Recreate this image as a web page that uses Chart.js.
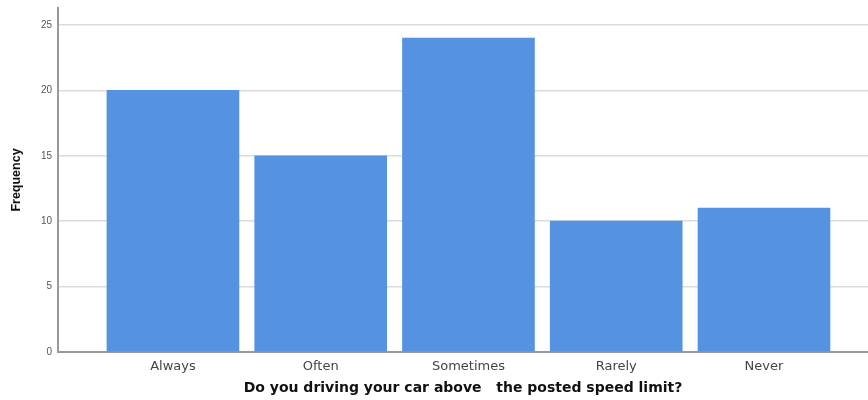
<!DOCTYPE html>
<html>
<head>
<meta charset="utf-8">
<script src="https://cdn.jsdelivr.net/npm/chart.js@4"></script>
<style>
html,body{margin:0;padding:0;background:#fff;}
#wrap{width:868px;height:400px;}
</style>
</head>
<body>
<div id="wrap"><canvas id="c" width="868" height="400"></canvas></div>
<script>
const categories = ["Always", "Often", "Sometimes", "Rarely", "Never"];
const frequency = [20, 15, 24, 10, 11];
const yTicks = [0, 5, 10, 15, 20, 25];
const xTitle = "Do you driving your car above   the posted speed limit?";
const yTitle = "Frequency";

const points = categories.map((c, i) => ({x: i, y: frequency[i]}));

new Chart(document.getElementById('c'), {
  type: 'bar',
  data: {
    datasets: [{
      data: points,
      backgroundColor: '#5593E2',
      borderWidth: 0,
      barThickness: 132
    }]
  },
  options: {
    responsive: false,
    animation: false,
    layout: {padding: {top: 8, right: 0, left: 0, bottom: 0}},
    plugins: {legend: {display: false}, tooltip: {enabled: false}},
    scales: {
      x: {
        type: 'linear',
        offset: false,
        min: -0.778,
        max: 4.704,
        afterBuildTicks: (s) => { s.ticks = categories.map((c, i) => ({value: i})); },
        afterFit: (s) => { s.height = 48; s.paddingLeft = 0; s.paddingRight = 0; },
        ticks: {
          callback: (v) => categories[v],
          color: '#444',
          font: {family: 'DejaVu Sans', size: 13},
          padding: 7,
          maxRotation: 0,
          autoSkip: false
        },
        grid: {display: false, drawTicks: false},
        border: {color: '#999', width: 2},
        title: {
          display: true,
          text: xTitle,
          color: '#111',
          font: {family: 'DejaVu Sans', size: 14, weight: 'bold'},
          padding: {top: 0, bottom: 3}
        }
      },
      y: {
        min: 0,
        max: 26.3,
        afterBuildTicks: (s) => { s.ticks = yTicks.map(v => ({value: v})); },
        afterFit: (s) => { s.width = 58; s.paddingTop = 0; s.paddingBottom = 0; },
        ticks: {
          color: '#555',
          font: {family: 'Liberation Sans', size: 10},
          padding: 6
        },
        grid: {color: '#dcdcdc', lineWidth: 1.5, drawTicks: false},
        border: {color: '#999', width: 2},
        title: {
          display: true,
          text: yTitle,
          color: '#111',
          font: {family: 'Liberation Sans', size: 12.5, weight: 'bold'},
          padding: {top: 9, bottom: 0}
        }
      }
    }
  }
});
</script>
</body>
</html>
